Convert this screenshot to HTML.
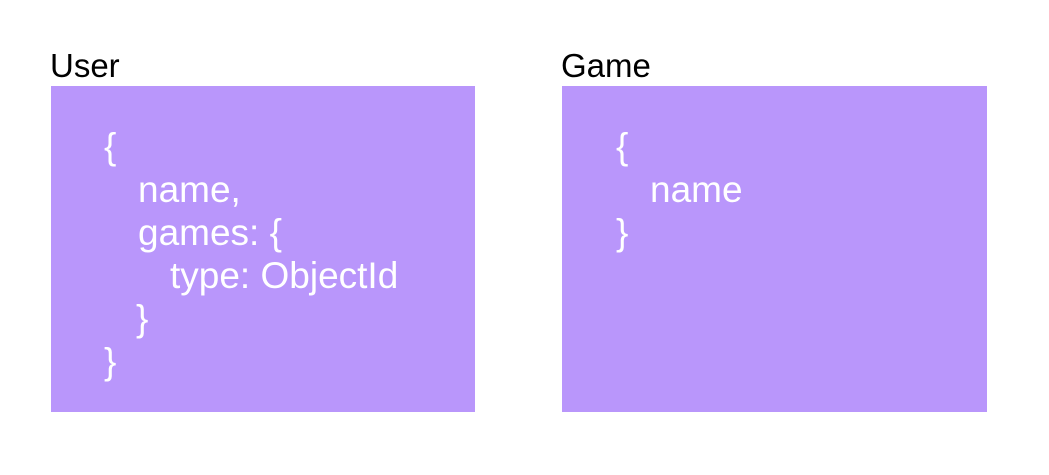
<!DOCTYPE html>
<html><head><style>
html,body{margin:0;padding:0;background:#fff;width:1049px;height:475px;overflow:hidden;position:relative;font-family:"Liberation Sans",sans-serif}
.t{position:absolute;font-size:33px;color:#000;line-height:1}
.box{position:absolute;top:86px;width:424px;height:326px;background:#b996fb}
.l{position:absolute;color:#fff;font-size:37px;line-height:1;white-space:pre}
</style></head><body>
<div class="t" style="left:50px;top:49px">User</div>
<div class="t" style="left:561px;top:49px">Game</div>
<div class="box" style="left:51px"></div>
<div class="box" style="left:562px;width:425px"></div>
<div class="l" style="left:104px;top:128px">{</div>
<div class="l" style="left:138px;top:171px">name,</div>
<div class="l" style="left:138px;top:214px">games: {</div>
<div class="l" style="left:170px;top:257px">type: ObjectId</div>
<div class="l" style="left:136px;top:300px">}</div>
<div class="l" style="left:104px;top:343px">}</div>
<div class="l" style="left:616px;top:128px">{</div>
<div class="l" style="left:650px;top:171px">name</div>
<div class="l" style="left:616px;top:214px">}</div>
</body></html>
